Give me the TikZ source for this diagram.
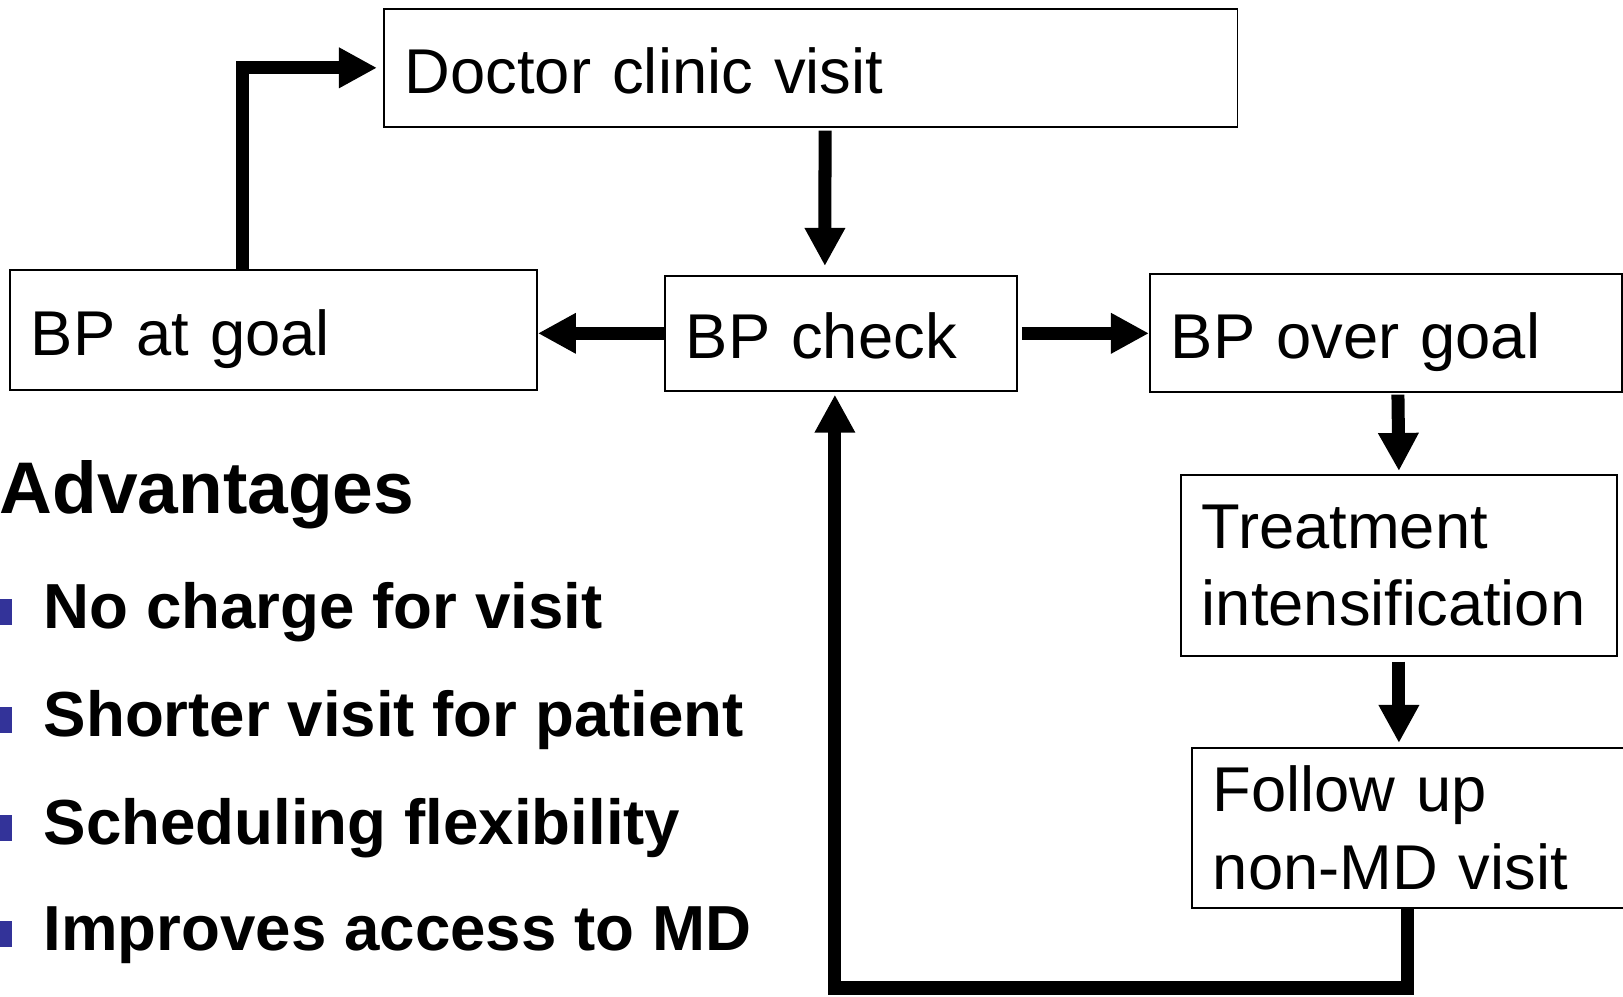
\documentclass[tikz,border=0pt]{standalone}
\usepackage{fontspec}
\setmainfont{Liberation Sans}
\usetikzlibrary{arrows.meta}
\definecolor{bulletblue}{RGB}{51,51,153}

\tikzset{
  box/.style={draw, line width=0.45pt, text width=#1, align=left,
    inner xsep=0.21cm, inner ysep=0pt, anchor=north west,
    font=\fontsize{18}{22}\selectfont},
  oneline/.style={text height=14.5pt, text depth=0pt},
  flow/.style={-{Triangle[length=0.38cm, width=0.38cm]}, line width=0.13cm},
  item/.style={anchor=base west, inner sep=0pt, font=\fontsize{18.1}{22}\selectfont\bfseries},
  bulletsq/.style={fill=bulletblue, minimum size=0.26cm, inner sep=0pt}
}

\begin{document}
\begin{tikzpicture}[x=0.01cm, y=-0.01cm]
  \useasboundingbox (0,0) rectangle (1623,997);
  % boxes
  \node[box=8.11cm, oneline, minimum height=1.18cm] (doctor) at (383,8) {Doctor clinic visit};
  \node[box=4.85cm, oneline, minimum height=1.20cm] (goal) at (9,269) {BP at goal};
  \node[box=3.10cm, oneline, minimum height=1.15cm] (check) at (664,275) {BP check};
  \node[box=4.30cm, oneline, minimum height=1.18cm] (over) at (1149,273) {BP over goal};
  \node[box=3.94cm, minimum height=1.81cm] (treat) at (1180,474) {Treatment\\intensification};
  \node[box=3.90cm, minimum height=1.60cm] (follow) at (1191,747) {Follow up\\non-MD visit};
  \coordinate (bottom) at (0,988);
  % arrows
  \draw[flow] ([xshift=2.33cm]goal.north west) |- ([xshift=-0.06cm]doctor.west);
  \draw[flow] ([xshift=0.145cm,yshift=-0.03cm]doctor.south) -- ([xshift=-0.16cm,yshift=0.09cm]check.north);
  \draw[flow] (check.west) -- (goal.east |- check.west);
  \draw[flow] ([xshift=0.04cm]check.east) -- (over.west |- check.east);
  \draw[flow] ([xshift=0.12cm,yshift=-0.02cm]over.south) -- ([yshift=0.03cm]treat.north);
  \draw[flow] ([yshift=-0.05cm]treat.south) -- ([yshift=0.04cm]treat.south |- follow.north);
  \draw[flow] (follow.south) -- (follow.south |- bottom) -| ([xshift=-0.06cm,yshift=-0.03cm]check.south);
  % advantages
  \node[anchor=base west, inner sep=0pt, font=\fontsize{20.8}{24}\selectfont\bfseries] (adv) at (-1,514) {Advantages};
  \node[bulletsq] (b1) at (-1,612) {};
  \node[item] (i1) at (43,628) {No charge for visit};
  \node[bulletsq] (b2) at (-1,720) {};
  \node[item] (i2) at (43,736) {Shorter visit for patient};
  \node[bulletsq] (b3) at (-1,828) {};
  \node[item] (i3) at (43,844) {Scheduling flexibility};
  \node[bulletsq] (b4) at (-1,934) {};
  \node[item] (i4) at (43,950) {Improves access to MD};
\end{tikzpicture}
\end{document}
